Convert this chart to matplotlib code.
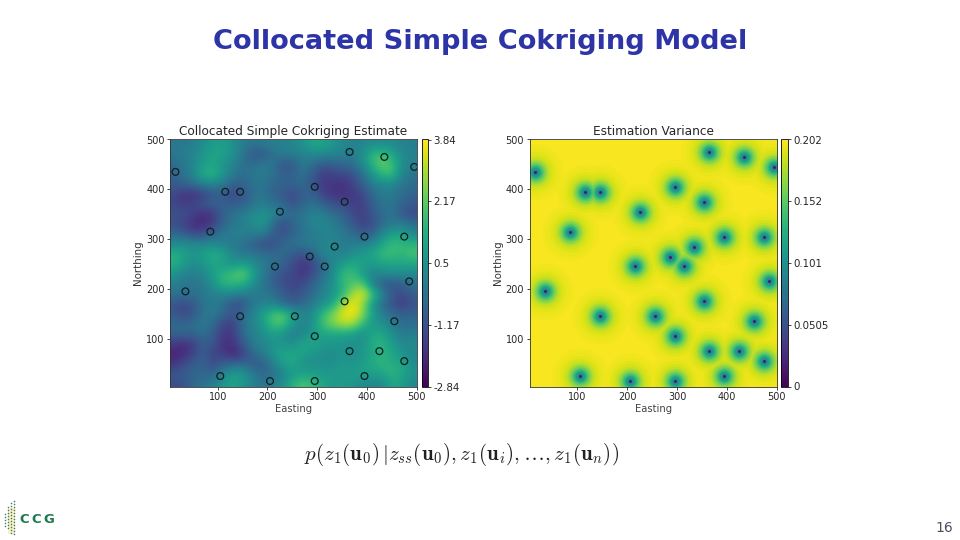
import matplotlib
matplotlib.use("Agg")
import matplotlib.pyplot as plt
import numpy as np

W, H = 960, 540

# well locations
WELL_X = [15, 365, 435, 495, 115, 145, 295, 355, 225, 85, 395, 475, 335, 285, 315,
          215, 485, 35, 355, 145, 255, 455, 295, 365, 425, 475, 105, 395, 205, 295]
WELL_Y = [435, 475, 465, 445, 395, 395, 405, 375, 355, 315, 305, 305, 285, 265, 245,
          245, 215, 195, 175, 145, 145, 135, 105, 75, 75, 55, 25, 25, 15, 15]

# estimate on a coarse 20 unit grid, top row is northing 490, columns easting 10..490
ESTIMATE = [
    [-0.2, -0.2, 0.0, 0.4, 0.8, 0.9, 0.5, 0.0, -0.3, -0.1, 0.0, 0.1, 0.2, 0.6, 1.1, 1.1, 0.7, 0.3, 0.1, 0.2, 0.3, 0.4, 0.3, 0.1, 0.0],
    [-0.2, 0.0, 0.2, 0.7, 1.1, 1.1, 0.6, -0.2, -1.0, -1.1, -0.4, 0.0, 0.0, 0.1, 0.3, 0.4, 0.2, 0.1, -0.1, 0.4, 1.5, 1.8, 1.1, 0.4, 0.1],
    [-0.6, -0.2, 0.2, 0.8, 1.1, 0.6, 0.1, -0.4, -0.5, -0.1, -0.2, -1.1, -1.0, -0.1, -0.4, -1.0, -0.8, -0.6, -0.4, 0.3, 1.5, 2.3, 1.8, 0.4, 0.1],
    [-0.7, -0.3, 0.2, 1.3, 1.5, 0.7, 0.0, -0.5, -0.1, -0.1, -0.3, -0.8, -0.8, -0.3, -0.9, -1.6, -1.5, -1.4, -1.2, -0.4, 0.6, 1.6, 1.8, 0.2, -0.3],
    [-0.9, -0.8, -0.4, 0.1, 0.2, -0.1, -0.8, -0.7, -0.4, -0.2, -0.6, -0.7, -0.7, -0.5, -1.1, -1.7, -1.8, -1.9, -1.6, -0.8, -0.1, 0.3, 0.3, -0.2, -0.5],
    [-1.3, -1.8, -1.9, -1.7, -1.0, -1.0, -1.5, -1.1, -0.4, -0.2, -0.8, -0.9, -1.5, -0.8, -0.7, -1.5, -1.8, -1.9, -1.7, -1.5, -0.6, -0.1, -0.1, -0.5, -0.7],
    [-1.4, -1.7, -1.4, -1.0, -0.7, -0.7, -0.9, -0.8, -0.3, 0.0, -0.3, -0.5, -1.2, -0.7, -0.3, -0.7, -1.2, -1.3, -1.6, -1.6, -0.8, -0.3, -0.2, -0.7, -1.0],
    [-1.1, -1.1, -1.5, -2.0, -1.8, -0.8, -0.3, 0.0, 0.3, 0.7, 0.3, -0.2, -0.5, -0.2, 0.1, 0.1, -0.4, -0.7, -1.3, -1.6, -1.1, -0.5, -0.3, -1.0, -1.4],
    [-1.3, -1.5, -2.0, -2.1, -1.6, -0.7, -0.2, 0.0, 0.4, 0.8, -0.4, -1.4, -0.7, -0.3, 0.2, 0.3, 0.0, -0.4, -1.0, -1.5, -1.3, -0.5, -0.1, 0.0, -0.4],
    [-0.5, -0.8, -1.3, -1.2, -0.7, -0.2, 0.1, 0.1, -0.1, 0.0, -0.8, -1.2, -0.7, -0.3, -0.1, 0.1, 0.2, -0.1, -0.4, -0.9, -0.8, 0.3, 0.9, 1.0, 0.3],
    [0.3, 0.5, 0.4, 0.3, 0.3, 0.1, -0.2, -0.4, -0.8, -1.3, -1.3, -0.6, -0.3, -0.2, 0.0, 0.1, 0.3, -0.1, 0.0, 0.1, 0.3, 1.1, 1.7, 1.6, 1.5],
    [1.4, 1.0, 0.6, 0.9, 1.4, 1.1, 0.3, -0.2, -0.2, -0.4, -0.5, -0.5, -0.9, -1.2, -0.8, 0.2, 0.3, 0.0, 0.5, 0.8, 1.1, 1.7, 1.7, 1.5, 1.9],
    [1.4, 0.9, 0.4, 0.6, 1.1, 0.8, 0.5, 1.0, 0.5, 0.0, -0.4, -0.7, -1.3, -1.8, -1.5, -0.6, 0.1, 0.9, 1.2, 1.0, 0.7, 1.0, 1.1, 1.1, 1.1],
    [0.6, 0.2, 0.0, 0.2, 0.8, 1.5, 1.9, 2.3, 1.1, -0.1, -0.7, -1.2, -1.3, -1.9, -1.3, -0.4, 0.3, 1.6, 1.8, 0.9, 0.1, 0.3, 0.4, 0.3, 0.3],
    [0.1, -0.2, -0.3, -0.1, 0.6, 1.5, 1.5, 1.4, 0.5, -0.2, -0.7, -1.3, -1.5, -1.3, -0.7, -0.1, 0.5, 1.5, 2.0, 2.2, 0.2, -1.0, -1.2, -0.8, -0.4],
    [-0.3, -0.3, -0.4, -0.2, 0.0, 0.2, 0.2, 0.0, -0.1, -0.1, -0.4, -0.8, -1.3, -1.0, -0.5, 0.1, 0.6, 1.4, 2.8, 3.7, 2.0, 0.3, -0.9, -1.4, -0.8],
    [-1.0, -1.4, -1.0, -0.3, 0.0, -0.4, -1.2, -1.2, -0.2, 0.1, 0.2, -0.5, -0.8, -0.6, -0.1, 0.6, 1.0, 2.8, 3.8, 2.9, 0.8, -0.5, -1.2, -1.7, -1.2],
    [-1.0, -1.4, -1.1, -0.3, -0.1, -0.5, -1.1, -0.5, 0.2, 0.9, 1.8, 2.2, 1.0, 0.2, 0.4, 1.6, 2.5, 3.5, 3.8, 2.8, 1.0, 0.0, -0.5, -0.8, -0.7],
    [-0.4, -0.6, -0.4, -0.1, -0.5, -1.5, -1.6, -0.5, 0.2, 0.7, 1.9, 1.9, 0.7, 0.0, 0.5, 1.8, 2.5, 3.0, 3.0, 1.7, 0.7, 0.6, 0.0, -0.5, -0.4],
    [-0.8, -0.6, -0.7, -0.4, -0.8, -1.7, -1.7, -0.6, 0.1, 0.4, 0.8, 0.6, 0.0, 0.2, 0.8, 1.0, 1.1, 1.0, 0.9, 0.4, 1.1, 1.2, 0.4, -0.1, 0.0],
    [-1.7, -2.0, -1.7, -0.9, -1.0, -1.9, -1.9, -1.0, -0.1, 0.2, 0.6, 0.6, 0.5, 1.1, 1.2, 0.7, 0.7, 0.6, 0.5, 0.5, 1.3, 1.5, 0.9, 0.3, 0.4],
    [-2.2, -2.1, -1.5, -0.8, -1.5, -1.6, -2.2, -1.7, -0.6, -0.1, 0.6, 1.2, 1.1, 1.0, 0.6, 0.5, 0.3, 0.6, 0.4, 0.7, 1.1, 1.5, 1.1, 0.6, 0.2],
    [-1.9, -1.3, -0.9, -0.6, -1.4, -0.7, -0.6, -0.5, -0.9, -1.0, 0.0, 0.8, 1.2, 0.6, 0.4, 0.5, 0.5, 0.8, 0.6, 0.8, 1.3, 1.5, 1.3, 1.2, 0.4],
    [-1.0, -0.9, -0.7, -0.6, -0.7, 0.1, 0.9, 0.8, 0.0, -0.6, -0.4, 0.1, 0.8, 0.9, 1.0, 0.8, 0.7, 0.9, 0.8, 1.1, 0.8, 1.1, 1.5, 1.1, 0.6],
    [-1.3, -1.2, -0.6, -0.3, 0.0, 0.7, 1.1, 0.7, 0.1, -0.3, 0.0, 0.5, 1.4, 2.0, 1.7, 1.1, 0.8, 0.7, 0.7, 0.3, 0.2, 0.2, 1.1, 0.9, 0.2],
]
EST_TICKS = [-2.84, -1.17, 0.5, 2.17, 3.84]
EST_LABELS = ["-2.84", "-1.17", "0.5", "2.17", "3.84"]

# variance: far field value, then rings around each well (radius in map units, value)
VAR_FAR = 0.2
VAR_RINGS = [(56, 0.198), (48, 0.196), (41, 0.193), (35, 0.189), (30, 0.184), (26, 0.177),
             (23, 0.169), (20, 0.16), (17, 0.15), (14.5, 0.14), (12, 0.128), (10, 0.116),
             (8, 0.108), (6, 0.1), (4.5, 0.09), (3, 0.015)]
VAR_TICKS = [0, 0.0505, 0.101, 0.152, 0.202]
VAR_LABELS = ["0", "0.0505", "0.101", "0.152", "0.202"]

AXIS_TICKS = [100, 200, 300, 400, 500]

# logo dot columns: x pixel, top and bottom pixel
LOGO_COLS = [(5, 514, 526), (8, 507, 530), (11, 503, 534), (14, 501, 536)]
LOGO_LETTERS = [("C", 19), ("C", 31), ("G", 43.5)]

plt.rcParams["font.family"] = "DejaVu Sans"
plt.rcParams["axes.unicode_minus"] = False
plt.rcParams["mathtext.fontset"] = "cm"

TXT = "#262626"


def px_axes(fig, left, top, right, bottom):
    return fig.add_axes([left / W, 1 - bottom / H, (right - left) / W, (bottom - top) / H])


def style_map(ax, title):
    ax.set_xlim(4, 500)
    ax.set_ylim(4, 500)
    ax.set_xticks(AXIS_TICKS)
    ax.set_yticks(AXIS_TICKS)
    ax.tick_params(labelsize=7, length=2.5, width=0.6, pad=1.5, colors=TXT)
    ax.set_xlabel("Easting", fontsize=7.2, color="#444444", labelpad=1.5)
    ax.set_ylabel("Northing", fontsize=7.4, color="#333333", labelpad=2)
    ax.set_title(title, fontsize=8.7, color=TXT, pad=3)
    for s in ax.spines.values():
        s.set_linewidth(0.6)
        s.set_color("#333333")


def style_cbar(cb, ticks, labels):
    cb.set_ticks(ticks)
    cb.set_ticklabels(labels)
    cb.ax.tick_params(labelsize=7.4, length=2.5, width=0.6, pad=1.5, colors=TXT)
    cb.outline.set_linewidth(0.6)


fig = plt.figure(figsize=(W / 100, H / 100), dpi=100, facecolor="white")

# left map
ax1 = px_axes(fig, 170, 139.5, 416.7, 386.5)
im1 = ax1.imshow(np.array(ESTIMATE), extent=(0, 500, 0, 500), origin="upper", cmap="viridis",
                 vmin=-2.84, vmax=3.84, interpolation="bicubic", aspect="auto")
ax1.scatter(WELL_X, WELL_Y, s=24, facecolors="none", edgecolors="#10201f", linewidths=0.9)
style_map(ax1, "Collocated Simple Cokriging Estimate")
cax1 = px_axes(fig, 421.5, 139.5, 427.7, 386.5)
style_cbar(fig.colorbar(im1, cax=cax1), EST_TICKS, EST_LABELS)

# right map
ax2 = px_axes(fig, 529.5, 139.5, 776.7, 386.5)
im2 = ax2.imshow([[VAR_FAR]], extent=(0, 500, 0, 500), cmap="viridis", vmin=0, vmax=0.202,
                 aspect="auto")
px_per_unit = 247.0 / 496
for i, (radius, value) in enumerate(VAR_RINGS):
    dia_pt = 2 * radius * px_per_unit * 0.72
    # keep the rings under the spines
    ax2.scatter(WELL_X, WELL_Y, s=dia_pt ** 2, color=plt.cm.viridis(value / 0.202),
                linewidths=0, zorder=1 + i * 0.01)
style_map(ax2, "Estimation Variance")
cax2 = px_axes(fig, 781, 139.5, 787.7, 386.5)
style_cbar(fig.colorbar(im2, cax=cax2), VAR_TICKS, VAR_LABELS)

# slide furniture, in pixels
page = fig.add_axes([0, 0, 1, 1], facecolor="none")
page.set_xlim(0, W)
page.set_ylim(H, 0)
page.axis("off")
page.text(480, 42, "Collocated Simple Cokriging Model", ha="center", va="center",
          fontweight="bold", fontsize=19.6, color="#2d34a5")
page.text(462, 455,
          r"$p\left(z_1(\mathbf{u}_0)\,|z_{ss}(\mathbf{u}_0),z_1(\mathbf{u}_i),\ldots,z_1(\mathbf{u}_n)\right)$",
          ha="center", va="center", fontsize=15.1, color="#222222")
page.text(953, 528, "16", ha="right", va="center", fontsize=10, color="#4a5060")
page.bar(11, 26, width=7, bottom=508, color="#f6f2c8", linewidth=0)
for letter, x in LOGO_LETTERS:
    page.text(x, 519.5, letter, ha="left", va="center", fontweight="bold", fontsize=9.5,
              color="#1e7a50")
for x, top, bottom in LOGO_COLS:
    ys = np.arange(top, bottom + 1, 3)
    page.scatter([x] * len(ys), ys, s=1.3, color="#4a7f66", linewidths=0)
page.set_xlim(0, W)
page.set_ylim(H, 0)

fig.savefig("out.png", dpi=100, facecolor="white")
